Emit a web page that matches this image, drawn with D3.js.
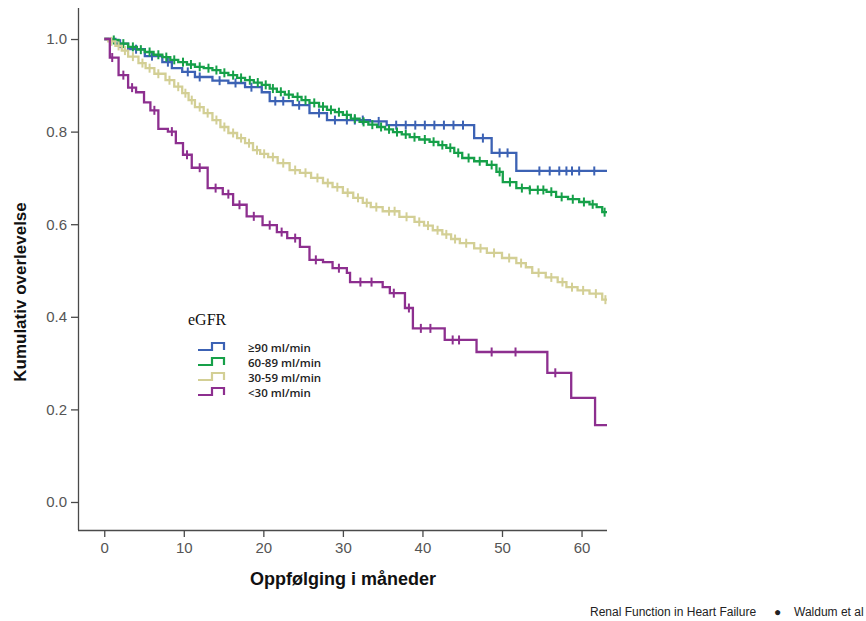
<!DOCTYPE html>
<html>
<head>
<meta charset="utf-8">
<script src="https://cdn.jsdelivr.net/npm/d3@7"></script>
<style>
  body { margin: 0; background: #fff; }
  svg { display: block; }
  .axis path, .axis line { stroke: #4a4a4a; stroke-width: 1.3; }
  .axis text { font-family: "Liberation Sans", Arial, sans-serif; font-size: 15px; fill: #555; }
</style>
</head>
<body>
<svg id="chart" width="866" height="621"></svg>
<script>
// Kaplan-Meier steps: [month, survival after drop]
const groups = ["≥90 ml/min", "60-89 ml/min", "30-59 ml/min", "<30 ml/min"];
const colors = ["#3c62b4", "#16a049", "#d3cf95", "#8d2f8f"];
const endMonth = 63.2;

const stepsGe90 = [[1.4,0.99],[3.0,0.978],[5.1,0.963],[7.3,0.95],[8.5,0.937],[9.8,0.929],[11.4,0.918],
  [13.6,0.91],[15.6,0.905],[17.7,0.896],[19.8,0.885],[20.8,0.866],[23.7,0.857],[25.8,0.84],
  [28.0,0.825],[33.4,0.822],[35.5,0.814],[46.5,0.786],[48.7,0.754],[51.8,0.715]];
const censGe90 = [2,4,6,8,10.5,12,14.5,16.5,18.5,21.5,22.5,24.5,27,29,30.5,31.5,32.5,34.5,
  36.7,37.9,39.1,40.3,41.5,42.7,43.9,45.1,47.6,49.7,50.7,54.7,56,57.2,58.1,58.8,59.7,61.6];

const steps6089 = [[0.5,0.998],[1.8,0.99],[3.0,0.983],[4.1,0.977],[5.1,0.972],[6.2,0.966],[7.3,0.961],
  [8.3,0.955],[9.3,0.95],[10.4,0.945],[11.4,0.94],[12.5,0.937],[13.6,0.933],[14.6,0.927],[15.6,0.922],
  [16.7,0.916],[17.7,0.911],[18.8,0.906],[19.8,0.901],[20.8,0.893],[21.7,0.886],[22.7,0.88],[23.7,0.875],
  [24.8,0.868],[25.8,0.862],[27.0,0.854],[28.0,0.847],[29.0,0.842],[30.0,0.836],[31.0,0.828],[32.1,0.821],
  [33.2,0.815],[34.3,0.81],[35.3,0.805],[36.3,0.799],[37.4,0.794],[38.4,0.788],[39.6,0.783],[40.9,0.778],
  [42.0,0.771],[43.0,0.765],[44.0,0.754],[45.0,0.743],[46.5,0.736],[48.1,0.728],[49.3,0.713],[50.1,0.691],
  [51.8,0.678],[53.5,0.674],[55.6,0.67],[56.8,0.659],[58.3,0.654],[59.7,0.648],[61.0,0.643],[61.9,0.637],[62.6,0.626]];
const cens6089 = [1.2,2.4,3.6,4.6,5.7,6.8,7.8,8.8,9.9,10.9,12,13.1,14.1,15.1,16.2,17.2,18.3,19.3,20.3,21.2,
  22.2,23.2,24.3,25.3,26.4,27.5,28.5,29.5,30.5,31.5,32.6,33.7,34.8,35.8,36.8,37.9,39,40.3,41.4,42.5,43.5,
  44.5,45.8,47.2,48.7,49.7,51,52.5,53.5,54.5,55.2,56.2,57.5,58.9,60.3,61.4,62.9];

const steps3059 = [[0.5,0.995],[1.4,0.985],[2.2,0.975],[3.0,0.962],[4.3,0.948],[5.2,0.937],[6.3,0.925],
  [7.7,0.911],[8.8,0.897],[9.8,0.883],[10.6,0.868],[11.4,0.853],[12.5,0.84],[13.6,0.825],[14.6,0.81],
  [15.6,0.797],[16.7,0.786],[17.7,0.775],[18.7,0.76],[19.6,0.752],[20.6,0.745],[21.8,0.732],[23.3,0.717],
  [24.6,0.711],[26.0,0.7],[27.5,0.689],[28.7,0.68],[30.0,0.668],[31.3,0.657],[32.5,0.646],[33.5,0.637],
  [35.0,0.628],[37.1,0.616],[39.0,0.605],[40.2,0.597],[41.3,0.587],[42.5,0.578],[43.6,0.568],[44.7,0.559],
  [46.5,0.548],[48.1,0.538],[50.0,0.527],[51.8,0.516],[53.0,0.507],[53.8,0.495],[55.5,0.485],[57.0,0.475],
  [58.1,0.464],[59.5,0.457],[61.0,0.45],[62.6,0.437]];
const cens3059 = [0.9,1.8,2.6,3.6,4.8,5.7,6.8,8.2,9.3,10.2,11,12,13,14.1,15.1,16.2,17.2,18.2,19.2,20.1,21.2,
  22.5,24,25.3,26.8,28.1,29.3,30.6,31.9,33,34.2,35.8,36.5,38,39.6,40.7,41.9,43,44.1,45.5,47.3,49,50.9,52.4,
  54.6,56.2,57.6,58.8,60.2,61.8,63];

const stepsLt30 = [[0.7,0.96],[1.8,0.922],[3.0,0.895],[4.0,0.885],[5.0,0.863],[5.8,0.846],[6.8,0.806],
  [8.0,0.8],[9.0,0.775],[9.9,0.75],[11.0,0.722],[13.0,0.678],[14.9,0.665],[16.2,0.642],[17.9,0.617],
  [19.9,0.598],[21.7,0.583],[23.0,0.57],[24.6,0.551],[25.8,0.523],[27.5,0.518],[28.7,0.505],[30.5,0.495],
  [30.9,0.475],[35.0,0.464],[35.9,0.451],[37.8,0.419],[38.8,0.375],[42.8,0.35],[46.8,0.324],
  [55.7,0.279],[58.7,0.225],[61.7,0.166]];
const censLt30 = [1,2.4,3.5,6.3,8.5,10.4,12,14,15.6,17,18.8,20.8,22.3,24,26.6,29.5,32.2,33.6,36.4,
  38.3,39.8,41,43.8,44.6,48.7,51.7,56.7];

const series = [
  { steps: stepsGe90, cens: censGe90 },
  { steps: steps6089, cens: cens6089 },
  { steps: steps3059, cens: cens3059 },
  { steps: stepsLt30, cens: censLt30 }
];

const xTicks = [0, 10, 20, 30, 40, 50, 60];
const yTicks = [0, 0.2, 0.4, 0.6, 0.8, 1.0];

const svg = d3.select("#chart");
const x = d3.scaleLinear().domain([-3.3, 63.2]).range([78, 607]);
const y = d3.scaleLinear().domain([-0.0605, 1.067]).range([530, 8]);

// axes
svg.append("g")
  .attr("class", "axis")
  .attr("transform", "translate(0,530)")
  .call(d3.axisBottom(x).tickValues(xTicks).tickSize(7).tickSizeOuter(0).tickPadding(5))
  .call(g => g.select(".domain").attr("d", "M78,0.5H607"));

svg.append("g")
  .attr("class", "axis")
  .attr("transform", "translate(78,0)")
  .call(d3.axisLeft(y).tickValues(yTicks).tickFormat(d3.format(".1f")).tickSize(7).tickSizeOuter(0).tickPadding(4))
  .call(g => g.select(".domain").attr("d", "M0.5,8V530"));

// curves
const line = d3.line()
  .x(d => x(d[0]))
  .y(d => y(d[1]))
  .curve(d3.curveStepAfter);

series.forEach((s, i) => {
  const pts = [[0, 1]].concat(s.steps, [[endMonth, s.steps[s.steps.length - 1][1]]]);
  const g = svg.append("g");
  g.append("path")
    .attr("d", line(pts))
    .attr("fill", "none")
    .attr("stroke", colors[i])
    .attr("stroke-width", 2.3);
  const times = pts.map(p => p[0]);
  g.selectAll("line.cens")
    .data(s.cens)
    .join("line")
    .attr("class", "cens")
    .attr("x1", d => x(d)).attr("x2", d => x(d))
    .attr("y1", d => y(pts[d3.bisectRight(times, d) - 1][1]) - 4.5)
    .attr("y2", d => y(pts[d3.bisectRight(times, d) - 1][1]) + 4.5)
    .attr("stroke", colors[i])
    .attr("stroke-width", 2);
});

// axis titles
svg.append("text")
  .attr("transform", "translate(26,292) rotate(-90)")
  .attr("text-anchor", "middle")
  .style("font-family", "Liberation Sans, Arial, sans-serif")
  .style("font-weight", "bold")
  .style("font-size", "17px")
  .attr("fill", "#111")
  .text("Kumulativ overlevelse");

svg.append("text")
  .attr("x", 343).attr("y", 585)
  .attr("text-anchor", "middle")
  .style("font-family", "Liberation Sans, Arial, sans-serif")
  .style("font-weight", "bold")
  .style("font-size", "18px")
  .attr("fill", "#111")
  .text("Oppfølging i måneder");

// legend
const legend = svg.append("g");
legend.append("text")
  .attr("x", 188).attr("y", 325)
  .style("font-family", "Liberation Serif, serif")
  .style("font-size", "16px")
  .attr("fill", "#111")
  .text("eGFR");

const legendY = [348, 363, 378, 393];
const items = legend.selectAll(".legend-item")
  .data(groups)
  .join("g")
  .attr("transform", (d, i) => `translate(0,${legendY[i]})`);

items.append("path")
  .attr("d", "M198,2H212V-5H224V2")
  .attr("fill", "none")
  .attr("stroke", (d, i) => colors[i])
  .attr("stroke-width", 2.2);

items.append("text")
  .attr("x", 248).attr("y", 4)
  .style("font-family", "Open Sans, sans-serif")
  .style("font-weight", 600)
  .style("font-size", "11.5px")
  .attr("fill", "#222")
  .text(d => d);

// footer
const footer = svg.append("g")
  .style("font-family", "Liberation Sans, Arial, sans-serif")
  .style("font-size", "12px")
  .attr("fill", "#222");
footer.append("text").attr("x", 590).attr("y", 616).text("Renal Function in Heart Failure");
footer.append("text").attr("x", 774).attr("y", 616).text("\u25CF");
footer.append("text").attr("x", 794).attr("y", 616).text("Waldum et al");
</script>
</body>
</html>
